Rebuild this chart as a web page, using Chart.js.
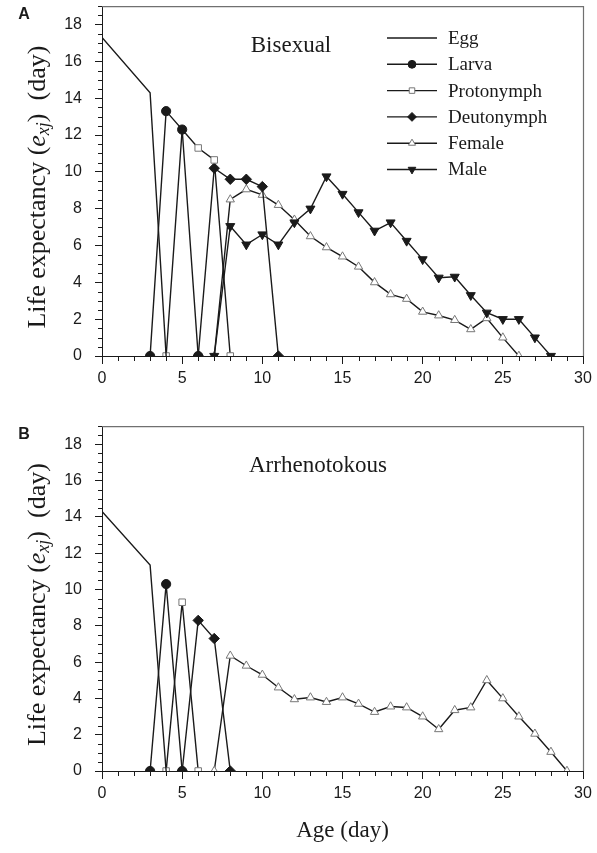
<!DOCTYPE html>
<html>
<head>
<meta charset="utf-8">
<script src="https://cdn.jsdelivr.net/npm/chart.js@4.4.1/dist/chart.umd.min.js"></script>
<style>
  body { margin: 0; background: #fff; }
  .panel { position: absolute; left: 0; width: 597px; }
  #panelA { top: 0; height: 420px; }
  #panelB { top: 420px; height: 433px; }
</style>
</head>
<body>
<div class="panel" id="panelA"><canvas id="chartA"></canvas></div>
<div class="panel" id="panelB"><canvas id="chartB"></canvas></div>
<script>
// axis ticks
const xTicks = [0, 5, 10, 15, 20, 25, 30];
const yTicks = [0, 2, 4, 6, 8, 10, 12, 14, 16, 18];

// A - bisexual
const eggAgeA = [0, 3, 4];
const eggA = [17.3, 14.3, 0];
const larvaAgeA = [3, 4, 5, 6];
const larvaA = [0, 13.3, 12.3, 0];
const protoAgeA = [4, 5, 6, 7, 8];
const protoA = [0, 12.3, 11.3, 10.65, 0];
const deutoAgeA = [6, 7, 8, 9, 10, 11];
const deutoA = [0, 10.2, 9.6, 9.6, 9.2, 0];
const femaleAgeA = [7, 8, 9, 10, 11, 12, 13, 14, 15, 16, 17, 18, 19, 20, 21, 22, 23, 24, 25, 26];
const femaleA = [0, 8.5, 9.05, 8.75, 8.2, 7.4, 6.5, 5.9, 5.4, 4.85, 4.0, 3.35, 3.1, 2.4, 2.2, 1.95, 1.45, 2.05, 1.0, 0];
const maleAgeA = [7, 8, 9, 10, 11, 12, 13, 14, 15, 16, 17, 18, 19, 20, 21, 22, 23, 24, 25, 26, 27, 28];
const maleA = [0, 7.05, 6.05, 6.6, 6.05, 7.25, 8.0, 9.75, 8.8, 7.8, 6.8, 7.25, 6.25, 5.25, 4.25, 4.3, 3.3, 2.35, 2.0, 2.0, 1.0, 0];

// B - arrhenotokous
const eggAgeB = [0, 3, 4];
const eggB = [14.3, 11.35, 0];
const larvaAgeB = [3, 4, 5];
const larvaB = [0, 10.3, 0];
const protoAgeB = [4, 5, 6];
const protoB = [0, 9.3, 0];
const deutoAgeB = [5, 6, 7, 8];
const deutoB = [0, 8.3, 7.3, 0];
const femaleAgeB = [7, 8, 9, 10, 11, 12, 13, 14, 15, 16, 17, 18, 19, 20, 21, 22, 23, 24, 25, 26, 27, 28, 29];
const femaleB = [0, 6.35, 5.8, 5.3, 4.6, 3.95, 4.05, 3.8, 4.05, 3.7, 3.25, 3.55, 3.5, 3.0, 2.3, 3.35, 3.5, 5.0, 4.0, 3.0, 2.05, 1.05, 0];

const serif = "'Liberation Serif', 'Times New Roman', serif";
const sans = "'Liberation Sans', Arial, sans-serif";
const ink = "#1a1a1a";

const styles = {
  Egg:        { pointStyle: "circle", pointRadius: 0, bg: ink, edge: ink },
  Larva:      { pointStyle: "circle", pointRadius: 4.6, bg: ink, edge: ink },
  Protonymph: { pointStyle: "rect", pointRadius: 4.6, bg: "#fff", edge: "#777" },
  Deutonymph: { pointStyle: "rectRot", pointRadius: 5.2, bg: ink, edge: ink },
  Female:     { pointStyle: "triangle", pointRadius: 4.8, bg: "#fff", edge: "#777" },
  Male:       { pointStyle: "triangle", pointRadius: 5.2, bg: ink, edge: ink, rotation: 180 },
};

function toPoints(ages, vals) {
  return ages.map((a, i) => ({ x: a, y: vals[i] }));
}

function series(name, ages, vals, order) {
  const s = styles[name];
  return {
    label: name,
    data: toPoints(ages, vals),
    borderColor: ink,
    borderWidth: 1.4,
    pointStyle: s.pointStyle,
    pointRadius: s.pointRadius,
    pointRotation: s.rotation || 0,
    pointBackgroundColor: s.bg,
    pointBorderColor: s.edge,
    pointBorderWidth: 1,
    tension: 0,
    order: order || 0,
  };
}

// frame, minor ticks, y title, panel letter, inner title, legend
function decorPlugin(letter, innerTitle, titleX, showLegend) {
  return {
    id: "decor" + letter,
    afterDraw(chart) {
      const ctx = chart.ctx;
      const a = chart.chartArea;
      const xs = chart.scales.x, ys = chart.scales.y;
      ctx.save();
      // top / right frame
      ctx.strokeStyle = "#707070";
      ctx.lineWidth = 1.2;
      ctx.beginPath();
      ctx.moveTo(a.left, a.top + 0.5);
      ctx.lineTo(a.right + 0.5, a.top + 0.5);
      ctx.lineTo(a.right + 0.5, a.bottom);
      ctx.stroke();
      // minor ticks
      ctx.strokeStyle = ink;
      ctx.lineWidth = 1;
      ctx.beginPath();
      for (let v = 0.5; v <= 19; v += 0.5) {
        if (v % 2 === 0) continue;
        const y = Math.round(ys.getPixelForValue(v)) + 0.5;
        ctx.moveTo(a.left - 4, y);
        ctx.lineTo(a.left, y);
      }
      for (let v = 1; v < 30; v++) {
        if (v % 5 === 0) continue;
        const x = Math.round(xs.getPixelForValue(v)) + 0.5;
        ctx.moveTo(x, a.bottom);
        ctx.lineTo(x, a.bottom + 5);
      }
      ctx.stroke();

      // y axis title with subscript
      ctx.translate(38, (a.top + a.bottom) / 2 + 6);
      ctx.rotate(-Math.PI / 2);
      ctx.fillStyle = ink;
      ctx.textBaseline = "middle";
      const parts = [
        ["Life expectancy (", "26px " + serif, 0],
        ["e", "italic 26px " + serif, 0],
        ["xj", "italic 18px " + serif, 6],
        [")  (day)", "26px " + serif, 0],
      ];
      let total = 0;
      parts.forEach(p => { ctx.font = p[1]; total += ctx.measureText(p[0]).width; });
      let px = -total / 2;
      parts.forEach(p => {
        ctx.font = p[1];
        ctx.fillText(p[0], px, p[2]);
        px += ctx.measureText(p[0]).width;
      });
      ctx.restore();

      ctx.save();
      ctx.fillStyle = ink;
      ctx.textBaseline = "middle";
      ctx.textAlign = "center";
      ctx.font = "bold 16px " + sans;
      ctx.fillText(letter, 24, a.top + 8);
      ctx.font = "23px " + serif;
      ctx.fillText(innerTitle, titleX, a.top + 40);

      if (showLegend) {
        chart.data.datasets.forEach((ds, i) => {
          const y = 38 + i * 26.3;
          ctx.strokeStyle = ink;
          ctx.lineWidth = 1.4;
          ctx.beginPath();
          ctx.moveTo(387, y);
          ctx.lineTo(437, y);
          ctx.stroke();
          if (ds.pointRadius > 0) {
            ctx.fillStyle = ds.pointBackgroundColor;
            ctx.strokeStyle = ds.pointBorderColor;
            ctx.lineWidth = 1;
            Chart.helpers.drawPoint(ctx, {
              pointStyle: ds.pointStyle,
              rotation: ds.pointRotation,
              radius: ds.pointRadius * 0.85,
              borderWidth: 1,
            }, 412, y);
          }
          ctx.fillStyle = ink;
          ctx.textAlign = "left";
          ctx.font = "19px " + serif;
          ctx.fillText(ds.label, 448, y + 1);
        });
      }
      ctx.restore();
    },
  };
}

function makeChart(id, datasets, opts) {
  return new Chart(document.getElementById(id), {
    type: "line",
    data: { datasets: datasets },
    options: {
      responsive: true,
      maintainAspectRatio: false,
      animation: false,
      layout: { padding: { top: opts.top, right: 14, left: 0, bottom: 0 } },
      plugins: { legend: { display: false }, tooltip: { enabled: false } },
      scales: {
        x: {
          type: "linear",
          min: 0,
          max: 30,
          afterFit: (s) => { s.height = opts.xHeight; s.paddingLeft = 0; s.paddingRight = 0; },
          afterBuildTicks: (s) => { s.ticks = xTicks.map(v => ({ value: v })); },
          ticks: { color: ink, font: { family: sans, size: 16 }, padding: 5, maxRotation: 0 },
          grid: { drawOnChartArea: false, tickLength: 8, color: ink },
          border: { color: ink, width: 1 },
          title: {
            display: !!opts.xTitle,
            text: opts.xTitle || "",
            color: ink,
            font: { family: serif, size: 23 },
            padding: { top: 0, bottom: 8 },
          },
        },
        y: {
          min: 0,
          max: 19,
          afterFit: (s) => { s.width = 102; s.paddingTop = 0; s.paddingBottom = 0; },
          afterBuildTicks: (s) => { s.ticks = yTicks.map(v => ({ value: v })); },
          ticks: { color: ink, font: { family: sans, size: 16 }, padding: 13 },
          grid: { drawOnChartArea: false, tickLength: 7, color: ink },
          border: { color: ink, width: 1 },
        },
      },
    },
    plugins: [decorPlugin(opts.letter, opts.title, opts.titleX, opts.legend)],
  });
}

makeChart("chartA", [
  series("Egg", eggAgeA, eggA),
  series("Larva", larvaAgeA, larvaA),
  series("Protonymph", protoAgeA, protoA),
  series("Deutonymph", deutoAgeA, deutoA),
  series("Female", femaleAgeA, femaleA),
  series("Male", maleAgeA, maleA, -1),
], { top: 5, xHeight: 64, letter: "A", title: "Bisexual", titleX: 291, legend: true });

makeChart("chartB", [
  series("Egg", eggAgeB, eggB),
  series("Larva", larvaAgeB, larvaB),
  series("Protonymph", protoAgeB, protoB),
  series("Deutonymph", deutoAgeB, deutoB),
  series("Female", femaleAgeB, femaleB),
], { top: 1, xHeight: 82, letter: "B", title: "Arrhenotokous", titleX: 318, legend: false, xTitle: "Age (day)" });
</script>
</body>
</html>
